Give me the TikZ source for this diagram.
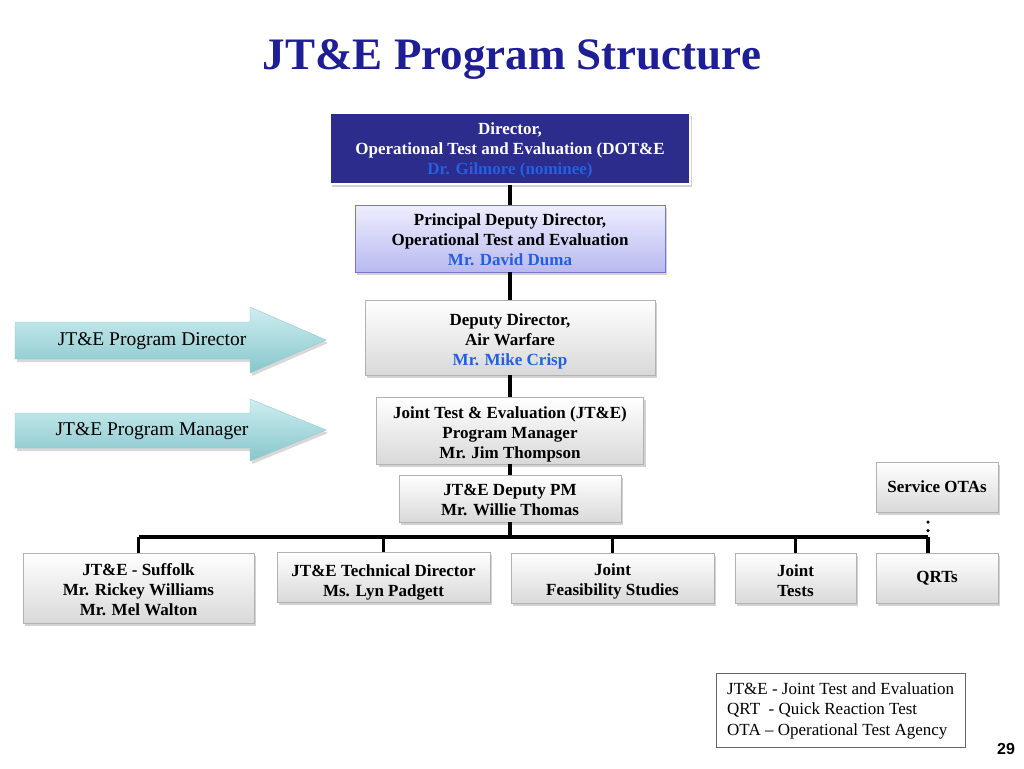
\documentclass[tikz,border=0pt]{standalone}
\usepackage{fontspec}
\setmainfont{Liberation Serif}
\newfontfamily\numfont{Liberation Sans}
\usetikzlibrary{shadows}
\definecolor{titleblue}{RGB}{30,30,150}
\definecolor{dirblue}{RGB}{44,44,140}
\definecolor{nameblue}{RGB}{35,95,225}
\definecolor{lavtop}{RGB}{238,238,255}
\definecolor{lavbot}{RGB}{185,185,240}
\definecolor{lavline}{RGB}{120,120,200}
\definecolor{arrowtop}{RGB}{205,238,240}
\definecolor{arrowbot}{RGB}{135,198,204}
\definecolor{arrowline}{RGB}{150,200,205}
\newcommand{\boxpad}[1]{\rule{0pt}{#1}}
\begin{document}
\begin{tikzpicture}[x=1pt,y=-1pt,
    orgbox/.style={align=center, inner sep=2pt, font=\fontsize{17}{20}\selectfont\bfseries,
                   drop shadow={shadow xshift=2pt,shadow yshift=-3pt,opacity=0.35}},
    greybox/.style={orgbox, draw=gray!60, top color=white, bottom color=gray!30},
    conn/.style={line width=3.5pt},
    arrowfill/.style={draw=arrowline, top color=arrowtop, bottom color=arrowbot,
                      drop shadow={shadow xshift=2pt,shadow yshift=-3pt,opacity=0.3}},
    lbl/.style={font=\fontsize{19.5}{22}\selectfont}]
\path[use as bounding box, fill=white] (0,0) rectangle (1024,768);
\node (title) at (512,70) [anchor=base, text=titleblue, font=\fontsize{45}{50}\selectfont\bfseries] {JT\&E Program Structure};
% chain of command
\node (dir) at (510,148.5) [orgbox, fill=dirblue, draw=white, line width=2.5pt, text=white, minimum width=360pt, minimum height=71pt]
    {\boxpad{15pt}Director,\\Operational Test and Evaluation (DOT\&E\\\textcolor{nameblue}{Dr. Gilmore (nominee)}};
\node (pdd) at (510,238.5) [orgbox, draw=lavline, top color=lavtop, bottom color=lavbot, minimum width=310pt, minimum height=67pt]
    {\boxpad{14pt}Principal Deputy Director,\\Operational Test and Evaluation\\\textcolor{nameblue}{Mr. David Duma}};
\node (dd) at (510,337.5) [greybox, minimum width=290pt, minimum height=75pt]
    {\boxpad{20pt}Deputy Director,\\Air Warfare\\\textcolor{nameblue}{Mr. Mike Crisp}};
\node (pm) at (510,430.5) [greybox, minimum width=267pt, minimum height=65pt]
    {\boxpad{19pt}Joint Test \& Evaluation (JT\&E)\\Program Manager\\Mr. Jim Thompson};
\node (dpm) at (510,498.5) [greybox, minimum width=222pt, minimum height=47pt]
    {\boxpad{15pt}JT\&E Deputy PM\\Mr. Willie Thomas};
\node (ota) at (937,487) [greybox, minimum width=122pt, minimum height=50pt] {Service OTAs};
% bottom row
\node (suffolk) at (138.5,588) [greybox, minimum width=231pt, minimum height=70pt]
    {\boxpad{15pt}JT\&E - Suffolk\\Mr. Rickey Williams\\Mr. Mel Walton};
\node (tech) at (383.5,577) [greybox, minimum width=213pt, minimum height=48pt]
    {\boxpad{22pt}JT\&E Technical Director\\Ms. Lyn Padgett};
\node (feas) at (612.5,578) [greybox, minimum width=203pt, minimum height=50pt]
    {\boxpad{19pt}Joint\\Feasibility Studies};
\node (tests) at (795.5,578) [greybox, minimum width=121pt, minimum height=50pt]
    {\boxpad{17pt}Joint\\Tests};
\node (qrt) at (937,578) [greybox, minimum width=122pt, minimum height=50pt] {QRTs};
% connectors
\coordinate (bus) at (510,537);
\coordinate (busR) at (928,537);
\draw[conn] (dir) -- (pdd) -- (dd) -- (pm) -- (dpm) -- (bus);
\draw[conn] (suffolk.north |- bus) -- (busR);
\draw[conn] (suffolk.north) -- (suffolk.north |- bus);
\draw[conn] (tech.north) -- (tech.north |- bus);
\draw[conn] (feas.north) -- (feas.north |- bus);
\draw[conn] (tests.north) -- (tests.north |- bus);
\draw[conn] (busR) -- (busR |- qrt.north);
\draw[line width=3.5pt, line cap=round, dash pattern=on 0pt off 8.5pt] ([yshift=-10pt]ota.south -| busR) -- ([yshift=6pt]busR);
% side arrows
\draw[arrowfill] (15,322) -- (250,322) -- (250,307) -- (326,340) -- (250,373) -- (250,359) -- (15,359) -- cycle;
\draw[arrowfill] (15,413) -- (250,413) -- (250,399) -- (326,430) -- (250,461) -- (250,448) -- (15,448) -- cycle;
\node (pdirlbl) at (152,341) [lbl] {JT\&E Program Director};
\node (pmgrlbl) at (152,431) [lbl] {JT\&E Program Manager};
% legend
\node (legend) at (716,673) [draw=gray!80!black, anchor=north west, align=left, inner xsep=11pt, inner ysep=9pt, font=\fontsize{17}{20.5}\selectfont]
    {JT\&E - Joint Test and Evaluation\\QRT\ \ - Quick Reaction Test\\OTA -- Operational Test Agency};
\node (pgno) at (1006,749) [font=\fontsize{16}{18}\numfont\bfseries] {29};
\end{tikzpicture}
\end{document}
